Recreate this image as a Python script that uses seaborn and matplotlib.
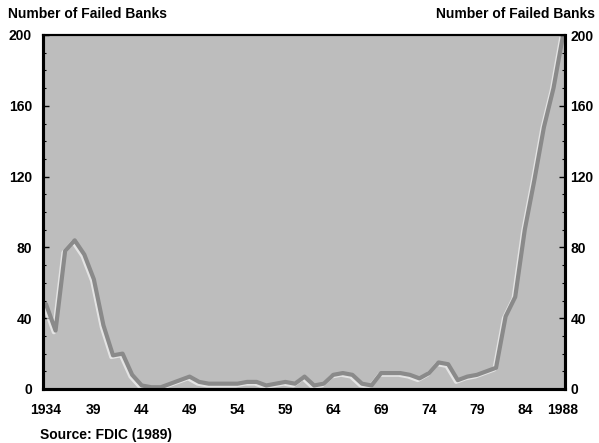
import matplotlib
matplotlib.use("Agg")
import matplotlib.pyplot as plt
import matplotlib.patheffects as pe
import pandas as pd
import seaborn as sns

# values (1934-1988)
years = list(range(1934, 1989))
failed = [48, 33, 78, 84, 76, 62, 36, 19, 20, 8,
          2, 1, 1, 3, 5, 7, 4, 3, 3, 3,
          3, 4, 4, 2, 3, 4, 3, 7, 2, 3,
          8, 9, 8, 3, 2, 9, 9, 9, 8, 6,
          9, 15, 14, 5, 7, 8, 10, 12, 41, 52,
          90, 118, 148, 170, 200]
x_ticks = [1934, 1939, 1944, 1949, 1954, 1959, 1964, 1969, 1974, 1979, 1984, 1988]
x_labels = ["1934", "39", "44", "49", "54", "59", "64", "69", "74", "79", "84", "1988"]
y_ticks = [0, 40, 80, 120, 160, 200]

df = pd.DataFrame({"Ano": years, "Bancos": failed})

sns.set_theme(style="white")
plt.rcParams["font.family"] = ["Liberation Sans", "DejaVu Sans"]
plt.rcParams["text.color"] = "black"
plt.rcParams["xtick.color"] = "black"
plt.rcParams["ytick.color"] = "black"

fig = plt.figure(figsize=(5.99, 4.43), dpi=100)
ax = fig.add_axes([43 / 599, 1 - 389 / 443, (565 - 43) / 599, (389 - 35) / 443])
ax.set_facecolor("#bdbdbd")

sns.lineplot(data=df, x="Ano", y="Bancos", ax=ax, color="#8a8a8a", linewidth=3,
             solid_joinstyle="round", solid_capstyle="round",
             path_effects=[pe.SimpleLineShadow(offset=(-1.2, -1.2), shadow_color="white", alpha=0.6),
                           pe.Normal()])

ax.set_xlim(1933.69, 1988.2)
ax.set_ylim(0, 200)
ax.set_xlabel("")
ax.set_ylabel("")
ax.set_xticks(x_ticks)
ax.set_xticklabels(x_labels, fontsize=10, fontweight="bold")
ax.set_yticks(y_ticks)
ax.set_yticklabels([str(v) for v in y_ticks], fontsize=10, fontweight="bold")
ax.set_yticks(range(0, 201, 10), minor=True)
ax.tick_params(axis="x", direction="out", length=3, width=1, pad=7)
ax.tick_params(axis="y", which="major", direction="in", length=4, width=1, pad=8)
ax.tick_params(axis="y", which="minor", direction="in", length=2, width=0.8, left=True)

ax2 = ax.twinx()
ax2.set_ylim(0, 200)
ax2.set_yticks(y_ticks)
ax2.set_yticklabels([str(v) for v in y_ticks], fontsize=10, fontweight="bold")
ax2.set_yticks(range(0, 201, 10), minor=True)
ax2.tick_params(axis="y", which="major", direction="in", length=4, width=1, pad=4)
ax2.tick_params(axis="y", which="minor", direction="in", length=2, width=0.8, right=True)
ax2.grid(False)

for a in (ax, ax2):
    for side in ("left", "bottom", "right"):
        a.spines[side].set_color("black")
        a.spines[side].set_linewidth(2.2)
    a.spines["top"].set_color("black")
    a.spines["top"].set_linewidth(1.5)

fig.text(8 / 599, 1 - 7 / 443, "Number of Failed Banks", ha="left", va="top",
         fontsize=10, fontweight="bold")
fig.text(595 / 599, 1 - 7 / 443, "Number of Failed Banks", ha="right", va="top",
         fontsize=10, fontweight="bold")
fig.text(40 / 599, 1 - 435 / 443, "Source: FDIC (1989)", ha="left", va="center",
         fontsize=10, fontweight="semibold")

fig.savefig("out.png", dpi=100)
